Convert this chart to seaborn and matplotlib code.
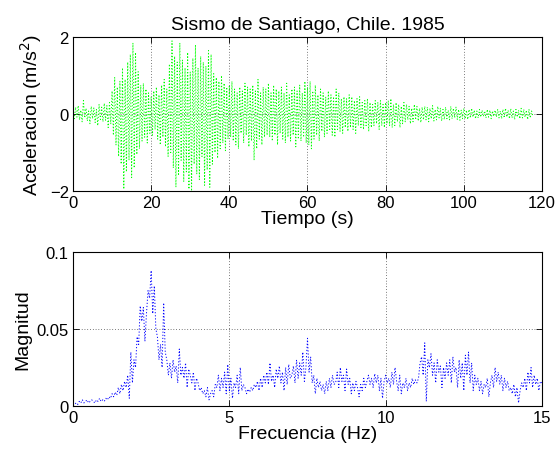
import numpy as np
import matplotlib
import matplotlib.pyplot as plt
import seaborn as sns

matplotlib.use("Agg")

# --- data ---
dt = 1 / 3  # seconds between samples
accel = [
    # 0-10 s
    0.05, -0.12, 0.18, -0.08, 0.22, -0.15, 0.10, -0.20, 0.35, -0.10,
    0.15, -0.18, 0.08, -0.25, 0.20, -0.12, 0.16, -0.22, 0.12, -0.30,
    0.25, -0.14, 0.18, -0.20, 0.28, -0.16, 0.22, -0.35, 0.30, -0.25,
    # 10-20 s
    0.60, -0.55, 0.95, -0.80, 0.70, -1.10, 0.85, -1.30, 1.20, -1.95,
    0.90, -1.50, 1.35, -1.20, 1.55, -1.65, 1.85, -1.40, 1.60, -1.05,
    1.10, -0.90, 0.75, -0.70, 0.80, -0.60, 0.65, -0.75, 0.55, -0.50,
    # 20-30 s
    0.45, -0.55, 0.60, -0.40, 0.70, -0.65, 0.50, -0.80, 0.75, -0.60,
    0.90, -0.85, 0.65, -1.10, 1.30, -1.00, 1.90, -1.40, 1.50, -1.90,
    1.35, -1.60, 1.85, -1.20, 1.40, -1.75, 1.20, -1.50, 1.60, -1.95,
    # 30-40 s
    1.10, -2.00, 1.45, -1.30, 1.80, -1.55, 1.20, -1.70, 1.50, -1.10,
    1.35, -1.85, 1.25, -1.45, 1.65, -1.90, 1.55, -1.30, 1.05, -1.00,
    0.95, -1.15, 0.85, -0.90, 1.00, -0.75, 0.80, -0.95, 0.70, -0.65,
    # 40-50 s
    0.75, -0.60, 0.85, -0.70, 0.65, -0.80, 0.55, -0.90, 0.70, -0.50,
    0.60, -0.75, 0.80, -0.55, 0.70, -0.85, 0.65, -0.70, 0.75, -1.20,
    0.60, -0.90, 0.90, -0.65, 0.55, -0.80, 0.70, -0.60, 0.65, -0.55,
    # 50-60 s
    0.80, -0.60, 0.55, -0.70, 0.75, -0.55, 0.65, -0.80, 0.60, -0.50,
    0.70, -0.65, 0.55, -0.75, 0.80, -0.60, 0.50, -0.70, 0.65, -0.55,
    0.70, -0.85, 0.60, -0.65, 0.75, -0.70, 0.55, -0.60, 0.85, -0.75,
    # 60-70 s
    0.70, -0.80, 0.85, -0.90, 0.60, -0.65, 0.75, -0.55, 0.50, -0.70,
    0.65, -0.45, 0.55, -0.60, 0.45, -0.50, 0.60, -0.40, 0.50, -0.55,
    0.45, -0.60, 0.65, -0.40, 0.55, -0.45, 0.40, -0.50, 0.45, -0.35,
    # 70-80 s
    0.40, -0.45, 0.50, -0.35, 0.45, -0.40, 0.35, -0.50, 0.40, -0.30,
    0.45, -0.35, 0.30, -0.40, 0.35, -0.30, 0.40, -0.45, 0.30, -0.35,
    0.25, -0.30, 0.35, -0.25, 0.30, -0.40, 0.35, -0.30, 0.25, -0.35,
    # 80-90 s
    0.30, -0.25, 0.35, -0.30, 0.40, -0.35, 0.25, -0.30, 0.30, -0.20,
    0.25, -0.35, 0.20, -0.25, 0.30, -0.20, 0.25, -0.15, 0.20, -0.25,
    0.15, -0.20, 0.25, -0.15, 0.20, -0.18, 0.15, -0.22, 0.18, -0.15,
    # 90-100 s
    0.20, -0.15, 0.18, -0.20, 0.15, -0.12, 0.22, -0.18, 0.12, -0.15,
    0.20, -0.10, 0.15, -0.18, 0.12, -0.14, 0.18, -0.12, 0.10, -0.15,
    0.20, -0.12, 0.15, -0.10, 0.18, -0.14, 0.12, -0.16, 0.10, -0.12,
    # 100-110 s
    0.15, -0.12, 0.10, -0.14, 0.12, -0.10, 0.15, -0.08, 0.10, -0.12,
    0.08, -0.10, 0.12, -0.08, 0.10, -0.06, 0.08, -0.10, 0.12, -0.08,
    0.10, -0.12, 0.08, -0.06, 0.10, -0.08, 0.12, -0.10, 0.08, -0.12,
    # 110-118 s
    0.12, -0.10, 0.15, -0.08, 0.10, -0.12, 0.14, -0.10, 0.08, -0.14,
    0.12, -0.08, 0.10, -0.12, 0.15, -0.10, 0.12, -0.08, 0.10, -0.14,
    0.12, -0.10, 0.08, -0.05,
]

df = 0.05  # Hz between spectrum samples
magnitude = [
    # 0-1 Hz
    0.000, 0.001, 0.002, 0.001, 0.003, 0.002, 0.004, 0.002, 0.003, 0.004,
    0.002, 0.003, 0.004, 0.003, 0.002, 0.004, 0.003, 0.005, 0.003, 0.004,
    # 1-2 Hz
    0.003, 0.005, 0.004, 0.006, 0.005, 0.008, 0.006, 0.009, 0.007, 0.012,
    0.008, 0.014, 0.010, 0.016, 0.012, 0.020, 0.005, 0.035, 0.015, 0.030,
    # 2-3 Hz
    0.025, 0.045, 0.040, 0.065, 0.055, 0.064, 0.042, 0.060, 0.075, 0.070,
    0.088, 0.060, 0.078, 0.050, 0.045, 0.030, 0.040, 0.025, 0.067, 0.035,
    # 3-4 Hz
    0.030, 0.020, 0.028, 0.018, 0.030, 0.022, 0.026, 0.015, 0.037, 0.020,
    0.025, 0.018, 0.028, 0.012, 0.024, 0.020, 0.015, 0.022, 0.010, 0.018,
    # 4-5 Hz
    0.015, 0.010, 0.012, 0.008, 0.010, 0.006, 0.012, 0.004, 0.008, 0.010,
    0.006, 0.014, 0.012, 0.020, 0.010, 0.018, 0.012, 0.022, 0.008, 0.027,
    # 5-6 Hz
    0.010, 0.018, 0.005, 0.015, 0.012, 0.020, 0.008, 0.025, 0.010, 0.014,
    0.012, 0.008, 0.011, 0.009, 0.012, 0.010, 0.014, 0.012, 0.016, 0.010,
    # 6-7 Hz
    0.018, 0.012, 0.020, 0.015, 0.022, 0.014, 0.028, 0.016, 0.020, 0.012,
    0.024, 0.018, 0.026, 0.015, 0.022, 0.010, 0.025, 0.014, 0.027, 0.018,
    # 7-8 Hz
    0.020, 0.026, 0.015, 0.030, 0.018, 0.028, 0.020, 0.035, 0.016, 0.025,
    0.044, 0.022, 0.032, 0.015, 0.020, 0.008, 0.018, 0.012, 0.016, 0.010,
    # 8-9 Hz
    0.014, 0.008, 0.016, 0.010, 0.018, 0.012, 0.020, 0.014, 0.015, 0.022,
    0.012, 0.025, 0.016, 0.020, 0.010, 0.024, 0.014, 0.018, 0.008, 0.015,
    # 9-10 Hz
    0.010, 0.016, 0.012, 0.006, 0.014, 0.010, 0.018, 0.012, 0.016, 0.020,
    0.014, 0.018, 0.012, 0.021, 0.015, 0.020, 0.010, 0.018, 0.005, 0.016,
    # 10-11 Hz
    0.020, 0.015, 0.018, 0.012, 0.022, 0.014, 0.025, 0.016, 0.010, 0.020,
    0.008, 0.015, 0.012, 0.018, 0.010, 0.015, 0.012, 0.018, 0.014, 0.017,
    # 11-12 Hz
    0.015, 0.018, 0.028, 0.032, 0.020, 0.041, 0.003, 0.030, 0.025, 0.034,
    0.020, 0.028, 0.015, 0.030, 0.022, 0.026, 0.012, 0.025, 0.018, 0.028,
    # 12-13 Hz
    0.020, 0.030, 0.015, 0.032, 0.022, 0.025, 0.012, 0.030, 0.018, 0.028,
    0.010, 0.033, 0.020, 0.035, 0.015, 0.028, 0.010, 0.020, 0.014, 0.018,
    # 13-14 Hz
    0.010, 0.016, 0.008, 0.014, 0.012, 0.018, 0.006, 0.015, 0.020, 0.012,
    0.025, 0.016, 0.022, 0.014, 0.020, 0.010, 0.018, 0.012, 0.016, 0.010,
    # 14-15 Hz
    0.012, 0.008, 0.014, 0.006, 0.012, 0.002, 0.010, 0.015, 0.012, 0.018,
    0.010, 0.022, 0.015, 0.025, 0.012, 0.020, 0.014, 0.018, 0.010, 0.016,
    0.015,
]

time = np.arange(len(accel)) * dt
freq = np.arange(len(magnitude)) * df

# --- style ---
sns.set_theme(style="ticks")
plt.rcParams["font.family"] = ["Liberation Sans", "DejaVu Sans"]
plt.rcParams.update({
    "xtick.direction": "in",
    "ytick.direction": "in",
    "xtick.top": True,
    "ytick.right": True,
    "xtick.labelsize": 12,
    "ytick.labelsize": 12,
    "axes.labelsize": 14,
    "axes.edgecolor": "black",
    "axes.linewidth": 0.8,
    "text.color": "black",
    "axes.labelcolor": "black",
    "xtick.color": "black",
    "ytick.color": "black",
})

fig = plt.figure(figsize=(5.56, 4.64), dpi=100)
ax1 = fig.add_axes([0.1313, 0.586, 0.8435, 0.332])
ax2 = fig.add_axes([0.1313, 0.1228, 0.8435, 0.3319])

grid_kw = dict(color="black", linestyle=(0, (1, 3)), linewidth=0.5)
data_ls = (0, (1.2, 2.0))

# Plot A: acceleration record
sns.lineplot(x=time, y=accel, ax=ax1, color=(0, 1, 0), linestyle=data_ls,
             linewidth=0.7, estimator=None, sort=False)
ax1.set_xlim(0, 120)
ax1.set_ylim(-2, 2)
ax1.set_xticks([0, 20, 40, 60, 80, 100, 120])
ax1.set_yticks([-2, 0, 2])
ax1.set_yticklabels(["\u22122", "0", "2"])
ax1.grid(True, **grid_kw)
ax1.set_title("Sismo de Santiago, Chile. 1985", fontsize=14, pad=6)
ax1.set_xlabel("Tiempo (s)", labelpad=0)
ax1.set_ylabel("Aceleracion (m/s$^2$)", labelpad=4)

# Plot B: spectrum
sns.lineplot(x=freq, y=magnitude, ax=ax2, color=(0, 0, 1), linestyle=data_ls,
             linewidth=0.7, estimator=None, sort=False)
ax2.set_xlim(0, 15)
ax2.set_ylim(0, 0.1)
ax2.set_xticks([0, 5, 10, 15])
ax2.set_yticks([0, 0.05, 0.1])
ax2.set_yticklabels(["0", "0.05", "0.1"])
ax2.grid(True, **grid_kw)
ax2.set_xlabel("Frecuencia (Hz)", labelpad=0)
ax2.set_ylabel("Magnitud", labelpad=4)

for ax in (ax1, ax2):
    ax.tick_params(length=4, width=0.6, color="black", pad=3)

fig.savefig("out.png", dpi=100)
plt.close(fig)
